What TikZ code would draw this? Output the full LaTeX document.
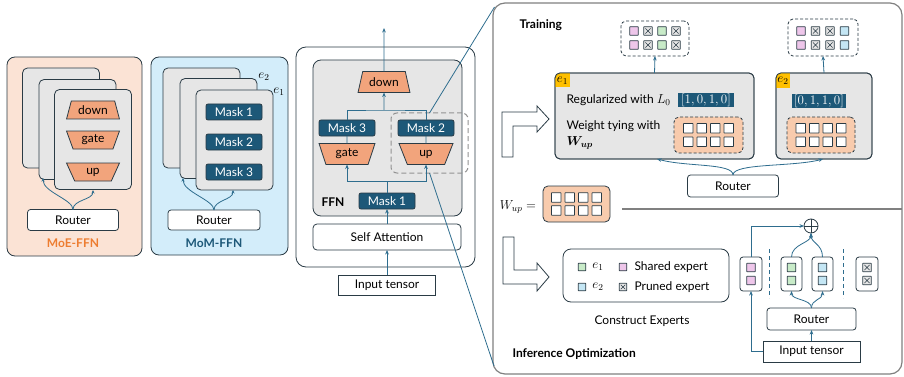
\RequirePackage{fix-cm}
\documentclass[tikz,border=0pt]{standalone}
\usepackage{fontspec}
\setmainfont{Lato}
\usepackage{amsmath,bm}
\usetikzlibrary{shapes.geometric,arrows.meta,calc}

\definecolor{edge}{HTML}{2A3B45}
\definecolor{lnk}{HTML}{2E6D8E}
\definecolor{maskc}{HTML}{1D5878}
\definecolor{grayc}{HTML}{E6E6E6}
\definecolor{salm}{HTML}{F2A47C}
\definecolor{peach}{HTML}{F8CBAD}
\definecolor{moebg}{HTML}{FBE3D5}
\definecolor{mombg}{HTML}{D3EDFA}
\definecolor{orng}{HTML}{ED7D31}
\definecolor{gold}{HTML}{FFC000}
\definecolor{pinkc}{HTML}{EEC6EA}
\definecolor{greenc}{HTML}{C8EBC8}
\definecolor{bluec}{HTML}{C4E6F4}
\definecolor{rimc}{HTML}{808080}

\tikzset{
  base/.style={inner sep=0pt, outer sep=0pt, line width=0.8pt, draw=edge},
  panel/.style={base, rounded corners=8pt},
  card/.style={base, fill=grayc, rounded corners=5pt, minimum width=77, minimum height=100},
  rbox/.style={base, fill=white, rounded corners=3pt},
  maskbox/.style={base, fill=maskc, text=white, rounded corners=2pt, minimum width=56, minimum height=16},
  trapW/.style={base, fill=salm, trapezium, trapezium angle=70, trapezium stretches=true,
                minimum width=53, minimum height=18},
  trapN/.style={base, fill=salm, trapezium, trapezium left angle=110, trapezium right angle=110,
                trapezium stretches=true, minimum width=53, minimum height=18},
  link/.style={draw=lnk, line width=0.8pt},
  arr/.style={link, -{Stealth[length=4.5pt,width=3.6pt]}},
  sarr/.style={link, -{Stealth[length=3.5pt,width=3pt]}},
  sq/.style={base, minimum size=8.5, rounded corners=0.4pt},
  pk/.style={sq, fill=pinkc},
  gr/.style={sq, fill=greenc},
  bl/.style={sq, fill=bluec},
  wt/.style={sq, fill=white, minimum size=9.5},
  xx/.style={sq, fill=grayc, path picture={
      \draw[line width=0.6pt, edge]
        ($(path picture bounding box.south west)!0.2!(path picture bounding box.north east)$) --
        ($(path picture bounding box.south west)!0.8!(path picture bounding box.north east)$)
        ($(path picture bounding box.north west)!0.2!(path picture bounding box.south east)$) --
        ($(path picture bounding box.north west)!0.8!(path picture bounding box.south east)$);}},
  hollow/.style={base, fill=white, line join=miter},
  col/.style={base, fill=white, rounded corners=3pt, minimum width=22, minimum height=34},
  bold/.style={font=\fontsize{12}{14}\selectfont\bfseries},
  mth/.style={font=\fontsize{13}{15}\selectfont},
}

\begin{document}
\begin{tikzpicture}[x=1pt,y=-1pt,font=\fontsize{12}{14}\selectfont]
\useasboundingbox (0,0) rectangle (904,377);

% ---------------- MoE-FFN ----------------
\node[panel, fill=moebg, minimum width=135, minimum height=199] (moe) at (74.5,156.5) {};
\node[card] (moeA) at (61,118) {};
\node[card] (moeB) at (77.5,129.5) {};
\node[card] (moeC) at (93,139.5) {};
\node[trapW] (moeDown) at (93,110) {down};
\node[trapN] (moeGate) at (93,140) {gate};
\node[trapN] (moeUp) at (93,172) {up};
\node[rbox, minimum width=91, minimum height=21] (moeRouter) at (73,220) {Router};
\node[bold, text=orng] (moeName) at (73,243) {MoE-FFN};
\coordinate (moeInB) at (43,178);
\coordinate (moeInC) at (93,190);
\draw[sarr] (moeRouter.north) .. controls +(0,-10) and +(0,14) .. (moeInB);
\draw[sarr] (moeRouter.north) .. controls +(0,-10) and +(0,10) .. (moeInC);

% ---------------- MoM-FFN ----------------
\node[panel, fill=mombg, minimum width=137, minimum height=198] (mom) at (219.5,156) {};
\node[card] (momA) at (201.5,118) {};
\node[card] (momB) at (218.5,128.5) {};
\node[card] (momC) at (234.5,140) {};
\node[mth] (momE2) at (264,77) {$e_2$};
\node[mth] (momE1) at (279,92) {$e_1$};
\node[maskbox] (momM1) at (234,112) {Mask 1};
\node[maskbox] (momM2) at (234,142) {Mask 2};
\node[maskbox] (momM3) at (234,172) {Mask 3};
\node[rbox, minimum width=92, minimum height=20] (momRouter) at (214,220) {Router};
\node[bold, text=maskc] (momName) at (214,243) {MoM-FFN};
\coordinate (momInB) at (183,178);
\coordinate (momInC) at (233,190);
\draw[sarr] (momRouter.north) .. controls +(0,-10) and +(0,14) .. (momInB);
\draw[sarr] (momRouter.north) .. controls +(0,-10) and +(0,10) .. (momInC);

% ---------------- Transformer block ----------------
\node[panel, rounded corners=10pt, fill=white, minimum width=179, minimum height=220] (blk) at (385.5,157) {};
\node[base, fill=grayc, rounded corners=8pt, minimum width=149, minimum height=156] (ffn) at (387.5,138) {};
\node[base, draw=gray!85, line width=1pt, dash pattern=on 5pt off 3pt, rounded corners=6pt,
      minimum width=77, minimum height=60] (sel) at (429.5,143) {};
\node[trapW, minimum width=52, minimum height=21] (down) at (384,82) {down};
\node[maskbox] (m3) at (347,128) {Mask 3};
\node[trapN, minimum width=56, minimum height=21] (gate) at (347,154) {gate};
\node[maskbox] (m2) at (426,128) {Mask 2};
\node[trapN, minimum width=54, minimum height=21] (up) at (426,154) {up};
\node[maskbox] (m1) at (387,201) {Mask 1};
\node[bold] (ffnName) at (333,202) {FFN};
\node[rbox, rounded corners=4pt, minimum width=148, minimum height=26] (sa) at (387,237) {Self Attention};
\node[base, fill=white, minimum width=97, minimum height=20] (inp) at (387,285) {Input tensor};
\coordinate (outTop) at (384,28);
\coordinate (split) at (387,181);
\coordinate (merge) at (384,110);
\draw[arr] (inp.north) -- (sa.south);
\draw[arr] (sa.north) -- (m1.south);
\draw[link] (m1.north) -- (split);
\draw[arr] (split) -| (gate.south);
\draw[arr] (split) -| (up.south);
\draw[link] (m3.south) -- (gate.north);
\draw[link] (m2.south) -- (up.north);
\draw[link] (m3.north) |- (merge) -| (m2.north);
\draw[arr] (merge) -- (down.south);
\draw[arr] (down.north) -- (outTop);

% ---------------- Detail panel ----------------
\node[base, draw=rimc, line width=1.2pt, rounded corners=12pt, fill=white,
      minimum width=409, minimum height=371] (rp) at (697.5,188.5) {};
\draw[link] (sel.north) -- ($(rp.north west)+(1.5,4)$);
\draw[link] (sel.south) -- ($(rp.south west)+(1,-8)$);

% turning arrows
\draw[hollow] (502,157) -- (502,112) -- (537,112) -- (537,106) -- (549,119) -- (537,132)
  -- (537,126) -- (513,126) -- (513,157) -- cycle;
\draw[hollow] (503,237) -- (514,237) -- (514,270) -- (537,270) -- (537,263) -- (549,277)
  -- (537,291) -- (537,284) -- (503,284) -- cycle;

\node[bold, anchor=west] (train) at (516,25) {Training};

% expert e1
\node[base, fill=grayc, rounded corners=5pt, minimum width=199, minimum height=86] (c1) at (654.5,116) {};
\begin{scope}
  \clip[rounded corners=5pt] (c1.north west) rectangle (c1.south east);
  \fill[gold] (c1.north west) rectangle ++(15,14);
\end{scope}
\draw[base, rounded corners=5pt] (c1.north west) rectangle (c1.south east);
\node[mth] (t1) at ($(c1.north west)+(7.5,7.5)$) {$e_1$};
\node[anchor=west] (reg) at (563,100) {Regularized with \fontsize{13}{15}\selectfont$L_0$};
\node[base, draw=none, fill=maskc, text=white, minimum width=56, minimum height=14, mth] (v1) at (706,100.5) {$[1,0,1,0]$};
\node[anchor=west] (tie) at (563,126) {Weight tying with};
\node[anchor=west, mth] (tieW) at (563,143) {$\bm{W_{up}}$};
\node[base, fill=peach, dash pattern=on 3pt off 2pt, rounded corners=5pt, minimum width=69, minimum height=36] (g1) at (708.5,135) {};
\foreach \i in {0,...,3} \foreach \j in {0,1}
  \node[wt] (g1s\i\j) at ($(g1.center)+(-20.25+13.5*\i,-6.75+13.5*\j)$) {};

% expert e2
\node[base, fill=grayc, rounded corners=5pt, minimum width=96, minimum height=86] (c2) at (824,116) {};
\begin{scope}
  \clip[rounded corners=5pt] (c2.north west) rectangle (c2.south east);
  \fill[gold] (c2.north west) rectangle ++(14,15);
\end{scope}
\draw[base, rounded corners=5pt] (c2.north west) rectangle (c2.south east);
\node[mth] (t2) at ($(c2.north west)+(7,7.5)$) {$e_2$};
\node[base, draw=none, fill=maskc, text=white, minimum width=54, minimum height=14, mth] (v2) at (819,101.5) {$[0,1,1,0]$};
\node[base, fill=peach, dash pattern=on 3pt off 2pt, rounded corners=5pt, minimum width=68, minimum height=36] (g2) at (821,135) {};
\foreach \i in {0,...,3} \foreach \j in {0,1}
  \node[wt] (g2s\i\j) at ($(g2.center)+(-20.25+13.5*\i,-6.75+13.5*\j)$) {};

% pruned outputs
\node[base, fill=white, dash pattern=on 3pt off 2pt, rounded corners=5pt, minimum width=68, minimum height=35] (o1) at (655,38.5) {};
\foreach \s [count=\i] in {pk,xx,gr,xx} {
  \node[\s] (o1a\i) at (620+14*\i,31) {};
  \node[\s] (o1b\i) at (620+14*\i,45) {};
}
\node[base, fill=white, dash pattern=on 3pt off 2pt, rounded corners=5pt, minimum width=70, minimum height=37] (o2) at (823,37.5) {};
\foreach \s [count=\i] in {pk,xx,xx,bl} {
  \node[\s] (o2a\i) at (786.5+14.5*\i,31) {};
  \node[\s] (o2b\i) at (786.5+14.5*\i,45) {};
}
\draw[arr] (c1.north) -- (o1.south);
\draw[arr] (c2.north) -- (o2.south);

\node[rbox, minimum width=91, minimum height=22] (rT) at (733,186) {Router};
\draw[arr] (rT.north) .. controls +(0,-12) and +(30,8) .. ($(c1.south)+(2.5,0)$);
\draw[arr] (rT.north) .. controls +(0,-12) and +(-30,8) .. ($(c2.south)+(-1,0)$);

% separator and tied weight
\coordinate (sepL) at (622,209);
\draw[draw=rimc, line width=1.1pt] (sepL) -- (sepL -| rp.east);
\node[mth] (wl) at (518,207) {$W_{up} =$};
\node[base, fill=peach, rounded corners=5pt, minimum width=67, minimum height=36] (gw) at (576.5,204) {};
\foreach \i in {0,...,3} \foreach \j in {0,1}
  \node[wt] (gws\i\j) at ($(gw.center)+(-20.25+13.5*\i,-6.5+13*\j)$) {};

% ---------------- Inference ----------------
\node[base, fill=white, rounded corners=8pt, minimum width=166, minimum height=53] (leg) at (646,275.5) {};
\node[gr, minimum size=7.5] (lg1) at (582,267) {};
\node[mth] (le1) at (598,267) {$e_1$};
\node[pk, minimum size=7.5] (lp1) at (623,267) {};
\node[anchor=west] (ls) at (631,267) {Shared expert};
\node[bl, minimum size=7.5] (lb1) at (582,287) {};
\node[mth] (le2) at (598,287) {$e_2$};
\node[xx, minimum size=7.5] (lx1) at (623,287) {};
\node[anchor=west] (lpr) at (631,287) {Pruned expert};
\node (cons) at (642,321) {Construct Experts};
\node[bold, anchor=west] (inf) at (509,354) {Inference Optimization};

\node[base, circle, fill=white, minimum size=14] (plus) at (811,226) {};
\draw[base] (plus.north) -- (plus.south) (plus.west) -- (plus.east);

\node[col] (colS) at (751,274) {};
\node[col, minimum width=21] (colG) at (791.5,274) {};
\node[col, minimum width=21] (colB) at (822.5,274) {};
\node[col] (colX) at (867,274) {};
\node[pk] (sS1) at (751,267.5) {};   \node[pk] (sS2) at (751,280.5) {};
\node[gr] (sG1) at (791.5,267.5) {}; \node[gr] (sG2) at (791.5,280.5) {};
\node[bl] (sB1) at (822.5,267.5) {}; \node[bl] (sB2) at (822.5,280.5) {};
\node[xx] (sX1) at (867,267.5) {};   \node[xx] (sX2) at (867,280.5) {};
\draw[link, dash pattern=on 4pt off 3pt] (769,249) -- (769,298);
\draw[link, dash pattern=on 4pt off 3pt] (843,249) -- (843,298);

\node[rbox, minimum width=89, minimum height=22] (rI) at (811.5,319) {Router};
\node[base, fill=white, minimum width=97, minimum height=21] (inI) at (811.5,351.5) {Input tensor};
\draw[arr] (inI.north) -- (rI.south);
\draw[arr] (rI.north) .. controls +(0,-9) and +(0,9) .. (colG.south);
\draw[arr] (rI.north) .. controls +(0,-9) and +(0,9) .. (colB.south);
\draw[arr] (colG.north) .. controls +(0,-13) and +(0,10) .. (plus.south);
\draw[arr] (colB.north) .. controls +(0,-13) and +(0,10) .. (plus.south);
\draw[arr] (inI.west) -| (colS.south);
\draw[arr] (colS.north) |- (plus.west);

\end{tikzpicture}
\end{document}
